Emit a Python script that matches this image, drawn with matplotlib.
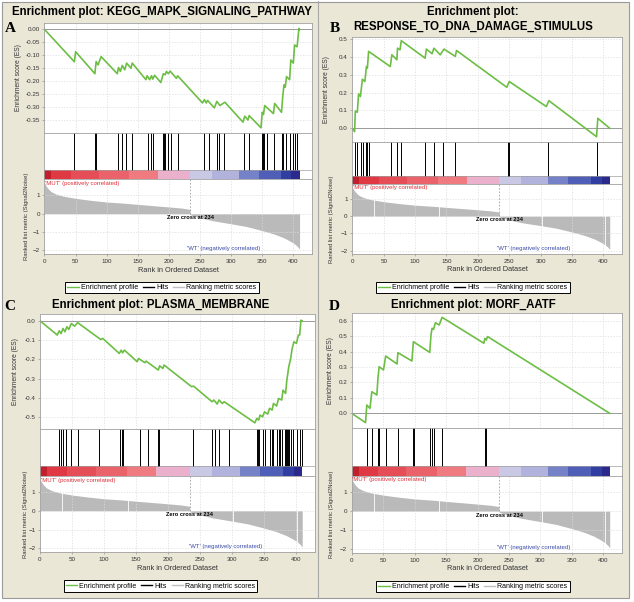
import matplotlib
matplotlib.use("Agg")
import matplotlib.pyplot as plt
from matplotlib.lines import Line2D
from matplotlib.patches import Rectangle

plt.rcParams['font.family'] = ['Liberation Sans', 'DejaVu Sans']

W, H = 634, 602
BG = '#EAE7D7'
GREEN = '#6DBE45'
GREYFILL = '#BABABA'

# ranked list metric (same dataset in every panel), outline
pos_rank = [0, 2, 5, 10, 18, 30, 50, 75, 100, 130, 150, 175, 200, 220, 234]
pos_val = [1.70, 1.55, 1.40, 1.22, 1.08, 0.96, 0.84, 0.73, 0.64, 0.57, 0.51, 0.44, 0.37, 0.31, 0.24]
neg_rank = [234, 236, 250, 270, 300, 325, 350, 370, 385, 395, 402, 407, 410]
neg_val = [-0.03, -0.08, -0.22, -0.38, -0.55, -0.70, -0.92, -1.12, -1.32, -1.50, -1.65, -1.80, -1.93]
zero_cross = 234

# colour bar under the hits
cbar_edges = [0, 11, 42, 87, 136, 182, 234, 269, 312, 344, 380, 397, 410]
cbar_colors = ['#C11F2B', '#DF3943', '#E54E57', '#EA636B', '#EF7B80', '#EBB0CB',
               '#C9C9E6', '#B1B3DC', '#7582C8', '#4F5EB6', '#2F3EA0', '#2B2A8C']

# A: KEGG_MAPK_SIGNALING_PATHWAY
a_es_rank = [0, 48, 50, 81, 83, 86, 91, 117, 119, 122, 125, 129, 132, 139, 141, 163, 165,
             169, 172, 174, 177, 187, 191, 194, 196, 199, 202, 212, 214, 254, 257, 260, 262,
             273, 277, 282, 290, 319, 322, 327, 329, 348, 350, 352, 354, 368, 370, 381, 383,
             385, 387, 389, 394, 396, 400, 402, 406, 409, 410]
a_es_val = [0.0, -0.125, -0.086, -0.171, -0.124, -0.137, -0.105, -0.171, -0.147, -0.162,
            -0.139, -0.156, -0.130, -0.150, -0.130, -0.194, -0.179, -0.194, -0.179, -0.192,
            -0.177, -0.205, -0.171, -0.175, -0.162, -0.171, -0.161, -0.189, -0.179, -0.284,
            -0.271, -0.284, -0.274, -0.303, -0.278, -0.294, -0.281, -0.358, -0.335, -0.350,
            -0.333, -0.380, -0.320, -0.329, -0.294, -0.325, -0.286, -0.320, -0.258, -0.214,
            -0.223, -0.182, -0.194, -0.118, -0.130, -0.060, -0.067, 0.004, 0.0]
a_hits = [47, 81, 83, 118, 125, 131, 140, 167, 171, 175, 190, 192, 194, 199, 203, 215,
          257, 264, 277, 280, 289, 321, 329, 349, 351, 353, 357, 369, 381, 384, 389, 394,
          400, 403, 406]

# B: RESPONSE_TO_DNA_DAMAGE_STIMULUS
b_es_rank = [0, 3.7, 4.8, 8, 10, 13, 16, 20, 22.5, 24, 26, 60.5, 63, 71, 72, 76, 78, 116,
             118, 127, 130, 140, 146, 164, 166, 246, 250, 309, 313, 389, 391, 410]
b_es_val = [0.0, -0.019, 0.097, 0.090, 0.193, 0.178, 0.275, 0.262, 0.346, 0.337, 0.431,
            0.346, 0.412, 0.384, 0.449, 0.440, 0.491, 0.393, 0.444, 0.418, 0.449, 0.412,
            0.444, 0.403, 0.436, 0.230, 0.262, 0.122, 0.155, -0.047, 0.056, 0.0]
b_hits = [4.8, 7, 14.5, 17, 22.5, 24, 26, 62, 71, 77, 116, 130, 145, 164, 248, 250, 312, 390]

# C: PLASMA_MEMBRANE
c_es_rank = [0, 27, 30, 33, 36, 39, 42, 45, 49, 54, 59, 95, 98, 124, 127, 129, 132, 152,
             154, 164, 166, 185, 187, 192, 194, 237, 240, 269, 272, 277, 280, 285, 288, 336,
             339, 342, 344, 348, 351, 356, 359, 363, 365, 370, 373, 378, 380, 384, 386, 389,
             392, 394, 397, 401, 404, 406, 408, 410]
c_es_val = [0.0, -0.074, -0.052, -0.066, -0.040, -0.057, -0.031, -0.045, -0.014, -0.028,
            -0.010, -0.097, -0.091, -0.169, -0.152, -0.166, -0.152, -0.212, -0.195, -0.217,
            -0.209, -0.255, -0.233, -0.247, -0.229, -0.341, -0.338, -0.419, -0.410, -0.431,
            -0.410, -0.428, -0.419, -0.528, -0.505, -0.514, -0.488, -0.497, -0.471, -0.483,
            -0.453, -0.462, -0.428, -0.441, -0.402, -0.410, -0.359, -0.376, -0.307, -0.238,
            -0.195, -0.148, -0.109, -0.117, -0.074, -0.074, 0.003, 0.0]
c_hits = [30, 33, 36, 41, 48, 60, 92, 125, 128, 129, 156, 169, 184, 186, 240, 269, 273,
          280, 296, 339, 341, 343, 348, 352, 359, 362, 365, 370, 374, 376, 379, 383, 384,
          386, 388, 390, 393, 396, 402, 406, 409]

# D: MORF_AATF
d_es_rank = [0, 22, 24, 29, 32, 40, 41.5, 43.6, 50.5, 54, 72, 73.4, 95.7, 98, 124, 126,
             127.7, 130, 133, 139, 143.6, 210, 211.7, 213.8, 216, 410]
d_es_val = [0.0, -0.060, 0.054, 0.032, 0.140, 0.119, 0.216, 0.302, 0.281, 0.371, 0.320,
            0.393, 0.339, 0.464, 0.395, 0.508, 0.551, 0.544, 0.587, 0.572, 0.622, 0.454,
            0.486, 0.475, 0.497, 0.0]
d_hits = [24, 32, 41.5, 43.6, 54, 73, 97, 99.5, 125, 128, 131, 143, 212, 214]

# white gaps visible in the grey metric area
gap_ranks = [35, 138, 302, 402]

titles = [["Enrichment plot: KEGG_MAPK_SIGNALING_PATHWAY"],
          ["Enrichment plot:", "RESPONSE_TO_DNA_DAMAGE_STIMULUS"],
          ["Enrichment plot: PLASMA_MEMBRANE"],
          ["Enrichment plot: MORF_AATF"]]
letters = ["A", "B", "C", "D"]

fig = plt.figure(figsize=(W / 100, H / 100), dpi=100, facecolor='white')


def fx(x):
    return x / W


def fy(y):
    return 1 - y / H


def rect(l, t, r, b):
    return [l / W, 1 - b / H, (r - l) / W, (b - t) / H]


# background and borders
fig.patches.append(Rectangle((fx(2), fy(598)), fx(627), 596 / H, transform=fig.transFigure,
                             facecolor=BG, edgecolor='#9A9A9A', lw=0.8, zorder=-10))
fig.add_artist(Line2D([fx(318), fx(318)], [fy(1), fy(598)], color='#A8A8A8', lw=0.8))

XMAX = 430


def style_ax(ax):
    for s in ax.spines.values():
        s.set_color('#A0A0A0')
        s.set_linewidth(0.6)
    ax.tick_params(length=1.5, width=0.4, color='#808080', labelsize=4.5, pad=1.8,
                   labelcolor='#333333')


def panel(g, es_r, es_v, hits, ylim, yticks, fmt, title, letter, gaps):
    l, r = g['l'], g['r']
    # enrichment score
    ax = fig.add_axes(rect(l, g['es_t'], r, g['es_b']))
    style_ax(ax)
    ax.set_xlim(0, XMAX)
    ax.set_ylim(*ylim)
    ax.set_xticks(range(0, 401, 50))
    ax.set_yticks(yticks)
    ax.set_yticklabels([fmt % v for v in yticks])
    ax.tick_params(axis='x', length=0, labelbottom=False)
    ax.grid(True, color='#DCDCDC', lw=0.5, ls=(0, (2, 2)))
    ax.axhline(0, color='#9A9A9A', lw=0.7)
    ax.plot(es_r, es_v, color=GREEN, lw=1.2)
    fig.text(fx(g['es_lab']), fy((g['es_t'] + g['es_b']) / 2), "Enrichment score (ES)",
             rotation=90, ha='center', va='center', fontsize=4.8, color='#333333')

    # hits + colour bar
    hx = fig.add_axes(rect(l, g['es_b'], r, g['cb_b']))
    style_ax(hx)
    hx.set_xlim(0, XMAX)
    hx.set_ylim(0, 1)
    hx.set_xticks([])
    hx.set_yticks([])
    cb = (g['cb_b'] - g['hit_b']) / (g['cb_b'] - g['es_b'])
    for x in hits:
        hx.plot([x, x], [cb, 1], color='black', lw=0.7)
    for i, c in enumerate(cbar_colors):
        hx.fill_between([cbar_edges[i], cbar_edges[i + 1]], 0, cb, color=c, lw=0)
    hx.axhline(cb, color='#A0A0A0', lw=0.5)

    # ranked list metric
    rx = fig.add_axes(rect(l, g['cb_b'], r, g['rk_b']))
    style_ax(rx)
    rx.set_xlim(0, XMAX)
    rx.set_ylim(-2.2, 1.87)
    rx.set_xticks(range(0, 401, 50))
    rx.set_yticks([-2, -1, 0, 1])
    rx.grid(True, color='#DCDCDC', lw=0.5, ls=(0, (2, 2)))
    rx.fill_between(pos_rank, 0, pos_val, color=GREYFILL, lw=0)
    rx.fill_between(neg_rank, 0, neg_val, color=GREYFILL, lw=0)
    for x in gaps:
        rx.axvline(x, color='white', lw=0.6)
    rx.plot([zero_cross, zero_cross], [0, 1.87], color='#A0A0A0', lw=0.6, ls=(0, (2, 2)))
    rx.text(zero_cross, -0.22, "Zero cross at 234", ha='center', va='center',
            fontsize=4.1, fontweight='bold', color='black')
    rx.text(1, 1.64, "'MUT' (positively correlated)", ha='left', va='center',
            fontsize=4.3, color='#E0303A')
    rx.text(347, -1.9, "'WT' (negatively correlated)", ha='right', va='center',
            fontsize=4.3, color='#3A4AA8')
    fig.text(fx(g['rk_lab']), fy((g['cb_b'] + g['rk_b']) / 2),
             "Ranked list metric (Signal2Noise)", rotation=90, ha='center', va='center',
             fontsize=4.2, color='#333333')
    fig.text(fx((l + r) / 2), fy(g['xl']), "Rank in Ordered Dataset", ha='center',
             va='center', fontsize=5.3, color='#333333')

    # legend
    handles = [Line2D([], [], color=GREEN, lw=1.0), Line2D([], [], color='black', lw=1.0),
               Line2D([], [], color='#C0C0C0', lw=1.0)]
    leg = fig.legend(handles, ["Enrichment profile", "Hits", "Ranking metric scores"],
                     loc='center', bbox_to_anchor=(fx(g['cx']), fy(g['lg'])), ncol=3,
                     fontsize=5, frameon=True, fancybox=False, edgecolor='black',
                     framealpha=1, handlelength=1.6, handletextpad=0.3,
                     columnspacing=0.7, borderpad=0.35)
    leg.get_frame().set_linewidth(0.7)

    # title and letter
    for line, ty in zip(title, g['ty']):
        fig.text(fx(g['cx']), fy(ty), line, ha='center', va='center', fontsize=8.3,
                 fontweight='bold', color='black')
    fig.text(fx(g['lx']), fy(g['ly']), letter, ha='center', va='center', fontsize=11,
             fontweight='bold', family='Liberation Serif')


geo = [
    dict(l=44.5, r=312, es_t=22.7, es_b=133, hit_b=170, cb_b=179.5, rk_b=254, es_lab=18.3,
         rk_lab=27, xl=271, lg=287.5, cx=162, ty=[12], lx=10, ly=28),
    dict(l=352.3, r=622.3, es_t=37.3, es_b=141.7, hit_b=175.7, cb_b=184, rk_b=254,
         es_lab=326.7, rk_lab=331, xl=270, lg=287.5, cx=473, ty=[12, 27], lx=335, ly=28),
    dict(l=40, r=315, es_t=314, es_b=429, hit_b=466, cb_b=475.7, rk_b=552, es_lab=16,
         rk_lab=25.5, xl=569, lg=586.3, cx=160.5, ty=[305], lx=10, ly=307),
    dict(l=351.7, r=622.3, es_t=313.3, es_b=427.7, hit_b=466, cb_b=475.5, rk_b=553,
         es_lab=330, rk_lab=331, xl=569, lg=586.5, cx=473, ty=[305], lx=334, ly=306),
]

panel(geo[0], a_es_rank, a_es_val, a_hits, (-0.40, 0.026),
      [-0.35, -0.30, -0.25, -0.20, -0.15, -0.10, -0.05, 0.0], '%.2f', titles[0], letters[0], [])
panel(geo[1], b_es_rank, b_es_val, b_hits, (-0.075, 0.51),
      [0.0, 0.1, 0.2, 0.3, 0.4, 0.5], '%.1f', titles[1], letters[1], gap_ranks)
panel(geo[2], c_es_rank, c_es_val, c_hits, (-0.56, 0.035),
      [-0.5, -0.4, -0.3, -0.2, -0.1, 0.0], '%.1f', titles[2], letters[2], gap_ranks)
panel(geo[3], d_es_rank, d_es_val, d_hits, (-0.093, 0.648),
      [0.0, 0.1, 0.2, 0.3, 0.4, 0.5, 0.6], '%.1f', titles[3], letters[3], gap_ranks)

fig.savefig("out.png", dpi=100, facecolor=fig.get_facecolor())
